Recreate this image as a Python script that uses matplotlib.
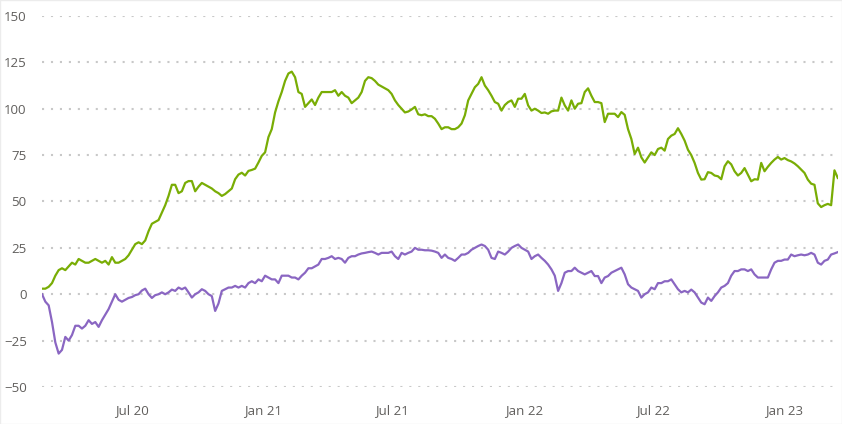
import pandas as pd
import matplotlib.pyplot as plt
from matplotlib.patches import Rectangle

# values, one every ~4.7 days
green = [3, 3, 4, 6, 10, 13, 14, 13, 15, 17, 16, 19, 18, 17, 17, 18, 19, 18, 17, 18,
         16, 20, 17, 17, 18, 19, 21, 24, 27, 28, 27, 29, 34, 38, 39, 40, 44, 48, 53, 59,
         59, 54.5, 55.5, 60, 61, 61, 55.5, 58, 60, 59, 58, 57, 55.5, 54.5, 53, 54, 55.5, 57, 62, 64.5,
         65.5, 64, 66.5, 67, 67.7, 71, 74.6, 76.5, 84.7, 89, 98, 104, 109, 115, 119, 120, 117, 109, 108, 101,
         103, 105, 102, 106, 109, 109, 109, 109, 110, 107, 109, 107, 106, 103, 104.5, 106, 109, 115, 117, 116.5,
         115, 113, 112, 111, 110, 108, 104.5, 102, 100, 98, 98.5, 99.6, 101, 97, 96.5, 97, 96, 96, 94.6, 92,
         89, 90, 90, 89, 89, 90, 92, 96.5, 104.5, 108, 111.6, 113.4, 117, 112.5, 110, 107, 103.6, 102.7, 99, 102,
         103.6, 104.5, 101, 105.4, 105.4, 108, 101.8, 99, 100, 99, 97.7, 98, 97.3, 98.6, 99, 99, 106, 101.8, 99, 104.5,
         100, 102.7, 103, 109, 111, 107, 103.6, 103.6, 103, 92.8, 97.3, 97.3, 97.3, 95.5, 98.2, 96.7, 89, 83.7, 75.6, 79,
         73.8, 71, 73.8, 76.5, 75, 78.3, 79, 77.4, 83.7, 85.5, 86.4, 89.5, 86.4, 82.8, 77.9, 75, 70.8, 65.4, 61.8, 62,
         65.8, 65.4, 64, 63.6, 62, 69, 71.7, 70, 66.3, 64, 65.4, 68, 64.5, 60.9, 62, 61.8, 70.8, 66.3, 68.7, 70.8,
         72.6, 74, 72.6, 73.4, 72.3, 71.6, 70.5, 69, 67.2, 65.4, 61.8, 59.6, 59, 49, 47, 48, 48.7, 48, 66.8, 62.7]

purple = [0, -4, -6, -15, -26, -32, -30, -23, -25, -22, -17, -17, -18.5, -17, -14, -16, -15, -17.6, -14, -11,
          -8, -4, 0, -3, -4, -3, -2, -1.5, -0.5, 0, 2, 3, 0, -2, -0.5, 0, 1, 0, 1, 2.5,
          1.8, 3.6, 2.7, 3.6, 1, -1.8, 0, 1, 2.7, 1.8, 0, -1, -9, -5, 1.8, 2.7, 3.6, 3.6, 4.5, 3.6,
          4.5, 3.6, 6, 7, 6, 8, 7, 10, 9, 8, 8, 6, 10, 10, 10, 9, 9, 8, 10, 11.6,
          14, 14, 15, 16, 19, 19, 19.6, 20.5, 19, 19.6, 19, 17, 19.6, 20.5, 20.5, 21.4, 22, 22.3, 22.7, 23,
          22.3, 21.4, 22.3, 22.3, 22.3, 23, 20.5, 19, 22.3, 21.4, 22.3, 23, 25, 24, 24, 23.7, 23.7, 23.5, 23, 22.3,
          19.6, 21.4, 19.6, 19, 18, 19.6, 21.4, 21.4, 22.3, 24, 25, 26, 26.8, 26, 24, 19.6, 19, 23, 22.3, 21.4,
          23, 25, 26, 26.8, 25, 24, 23, 19, 20.5, 21.4, 19.6, 18, 16, 13.4, 10, 1.8, 6, 11.6, 12.5, 12.5,
          14.3, 12.5, 11.6, 10.7, 11.6, 12.5, 9.8, 9.8, 6, 9, 9.8, 11.6, 12.5, 13.4, 14.3, 10.7, 5.4, 3.6, 2.7, 1.8,
          -1.8, 0, 1, 3.6, 2.7, 6, 6, 7, 7, 8, 5.4, 2.7, 1, 1.8, 1, 2.5, 1, -1.8, -4.5, -5.4,
          -1.8, -3.6, -1, 1, 3.6, 4.5, 6, 10, 12.5, 12.5, 13.4, 13.4, 12.5, 13.4, 10.7, 9, 9, 9, 9, 13.4,
          17, 18, 18, 18.7, 18.7, 21.4, 20.5, 21, 21.4, 21, 21.4, 22.3, 21.4, 17, 16, 18, 18.7, 21.4, 22, 22.7]

dates = pd.date_range("2020-02-26", periods=len(green), freq="112h")

yticks = [-50, -25, 0, 25, 50, 75, 100, 125, 150]
xticks = ["2020-07-01", "2021-01-01", "2021-07-01", "2022-01-01", "2022-07-01", "2023-01-01"]
xlabels = ["Jul 20", "Jan 21", "Jul 21", "Jan 22", "Jul 22", "Jan 23"]

plt.rcParams['font.family'] = ['Open Sans', 'DejaVu Sans']

fig = plt.figure(figsize=(8.42, 4.24), dpi=100)
ax = fig.add_axes([0.0499, 0.0873, 0.9451, 0.875])

ax.plot(dates, green, color='#79ad05', lw=1.6, solid_joinstyle='round')
ax.plot(dates, purple, color='#8a66c2', lw=1.6, solid_joinstyle='round')

ax.set_ylim(-50, 150)
ax.set_xlim(dates[0], dates[-1])
ax.set_yticks(yticks)
ax.set_xticks(pd.to_datetime(xticks))
ax.set_xticklabels(xlabels)
ax.grid(axis='y', color='#c8c8c8', lw=1.5, linestyle=(0, (1, 3.3)), dash_capstyle='butt')
ax.set_axisbelow(True)
for s in ax.spines.values():
    s.set_visible(False)
ax.tick_params(axis='both', length=0, colors='#605e5c', labelsize=9.5)
ax.tick_params(axis='y', pad=11)
ax.tick_params(axis='x', pad=12)

# faint card border
fig.patches.append(Rectangle((0, 0), 1, 1, transform=fig.transFigure, fill=False,
                             edgecolor='#ececec', lw=1))

fig.savefig("out.png", dpi=100)
